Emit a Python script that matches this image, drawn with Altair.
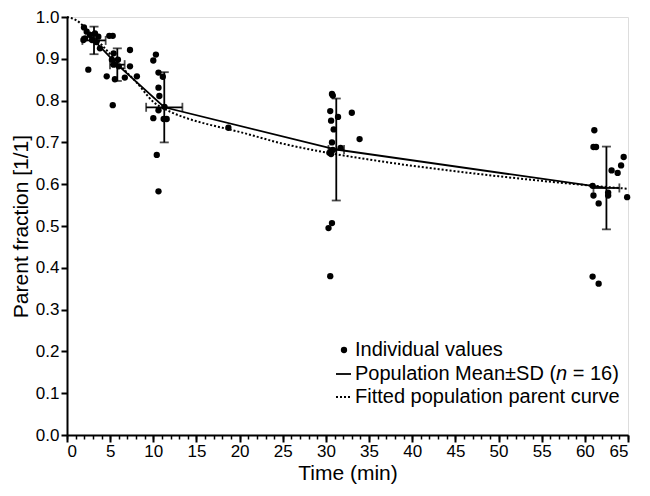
import altair as alt
import pandas as pd

# ---- data ----
pt_time = [1.97, 2.28, 2.67, 2.09, 3.24, 3.63, 2.47, 1.9, 3.82, 2.9, 3.4,
           4.9, 5.3, 7.3, 5.4, 5.2, 5.9, 4.6, 5.55, 6.7, 7.3, 8.1, 5.3, 5.4, 6.0,
           10.3, 10.0, 10.6, 11.1, 10.6, 10.7, 10.0, 11.2, 11.55, 10.6, 10.4, 10.6, 18.7, 11.3,
           30.7, 30.8, 30.5, 33.0, 30.6, 31.4, 30.9, 33.9, 30.7, 31.7, 30.8, 30.4, 30.6, 30.7, 30.3, 30.5,
           61.1, 61.0, 61.3, 64.5, 64.2, 63.1, 63.8, 61.0, 62.7, 62.7, 61.6, 64.9, 60.9, 60.9, 61.6]
pt_value = [0.975, 0.965, 0.957, 0.949, 0.961, 0.953, 0.874, 0.945, 0.925, 0.945, 0.940,
            0.955, 0.955, 0.921, 0.913, 0.898, 0.898, 0.858, 0.851, 0.855, 0.882, 0.858, 0.789, 0.886, 0.882,
            0.910, 0.896, 0.867, 0.857, 0.831, 0.811, 0.758, 0.756, 0.756, 0.777, 0.670, 0.583, 0.735, 0.785,
            0.816, 0.812, 0.775, 0.771, 0.752, 0.761, 0.731, 0.708, 0.700, 0.687, 0.682, 0.675, 0.672, 0.507, 0.495, 0.380,
            0.729, 0.689, 0.689, 0.665, 0.645, 0.633, 0.627, 0.573, 0.580, 0.573, 0.554, 0.569, 0.596, 0.379, 0.362]

mean_time = [3.13, 5.83, 11.27, 31.2, 62.5]
mean_value = [0.944, 0.886, 0.784, 0.683, 0.591]
sd_time = [1.35, 0.85, 2.1, 0.9, 1.5]
sd_value = [0.033, 0.039, 0.084, 0.122, 0.099]

fit_time = [0, 1, 2, 3, 4, 5, 6, 7, 8, 10, 12, 14, 16, 18, 20, 25, 30, 35, 40, 45, 50, 55, 60, 65]
fit_value = [1.0, 0.993, 0.977, 0.956, 0.934, 0.911, 0.888, 0.866, 0.845, 0.797, 0.773, 0.757,
             0.745, 0.735, 0.725, 0.697, 0.676, 0.659, 0.644, 0.631, 0.619, 0.608, 0.598, 0.589]

x_major = list(range(0, 70, 5))
x_minor = list(range(0, 66))
y_ticks = [round(i * 0.1, 1) for i in range(11)]

legend_labels = ["Individual values", "Population Mean\u00b1SD (", "n", "= 16)",
                 "Fitted population parent curve"]

# ---- tables ----
pts = pd.DataFrame({"t": pt_time, "v": pt_value})
means = pd.DataFrame({"t": mean_time, "v": mean_value, "st": sd_time, "sv": sd_value})
means["v_lo"] = means["v"] - means["sv"]
means["v_hi"] = means["v"] + means["sv"]
means["t_lo"] = means["t"] - means["st"]
means["t_hi"] = means["t"] + means["st"]
fit = pd.DataFrame({"t": fit_time, "v": fit_value})

FONT = "Liberation Sans"
xs = alt.Scale(domain=[0, 65], nice=False, zero=False)
ys = alt.Scale(domain=[0, 1], nice=False)

main_x_axis = alt.Axis(values=x_major, title="Time (min)", orient="bottom", tickSize=7,
                       tickWidth=2, domainWidth=2, domainColor="black", tickColor="black",
                       labelFontSize=17, titleFontSize=21, titleFontWeight="normal",
                       labelColor="black", titleColor="black", grid=False, titlePadding=3,
                       labelPadding=1)
minor_x_axis = alt.Axis(values=x_minor, title=None, orient="bottom", tickSize=4, tickWidth=1.5,
                        labels=False, domain=False, tickColor="black", grid=False)
y_axis = alt.Axis(values=y_ticks, format=".1f", title="Parent fraction [1/1]", orient="left",
                  tickSize=6, tickWidth=2, domainWidth=2, domainColor="black", tickColor="black",
                  labelFontSize=17, titleFontSize=21, titleFontWeight="normal",
                  labelColor="black", titleColor="black", grid=False, titlePadding=4,
                  labelPadding=2)

points = alt.Chart(pts).mark_circle(size=40, color="black", opacity=1).encode(
    x=alt.X("t:Q", scale=xs, axis=main_x_axis),
    y=alt.Y("v:Q", scale=ys, axis=y_axis),
)

fit_line = alt.Chart(fit).mark_line(color="black", strokeWidth=2, strokeDash=[2, 2],
                                    interpolate="monotone").encode(
    x=alt.X("t:Q", scale=xs, axis=minor_x_axis),
    y=alt.Y("v:Q", scale=ys, axis=None),
)

mean_line = alt.Chart(means).mark_line(color="black", strokeWidth=1.8).encode(
    x=alt.X("t:Q", scale=xs, axis=None),
    y=alt.Y("v:Q", scale=ys, axis=None),
)

vbar = alt.Chart(means).mark_rule(color="black", strokeWidth=1.8).encode(
    x=alt.X("t:Q", scale=xs, axis=None),
    y=alt.Y("v_lo:Q", scale=ys, axis=None),
    y2="v_hi:Q",
)
hbar = alt.Chart(means).mark_rule(color="black", strokeWidth=1.8).encode(
    x=alt.X("t_lo:Q", scale=xs, axis=None),
    x2="t_hi:Q",
    y=alt.Y("v:Q", scale=ys, axis=None),
)
cap_top = alt.Chart(means).mark_tick(color="black", thickness=1.8, size=9, orient="horizontal").encode(
    x=alt.X("t:Q", scale=xs, axis=None), y=alt.Y("v_hi:Q", scale=ys, axis=None))
cap_bot = alt.Chart(means).mark_tick(color="black", thickness=1.8, size=9, orient="horizontal").encode(
    x=alt.X("t:Q", scale=xs, axis=None), y=alt.Y("v_lo:Q", scale=ys, axis=None))
cap_left = alt.Chart(means).mark_tick(color="black", thickness=1.8, size=9, orient="vertical").encode(
    x=alt.X("t_lo:Q", scale=xs, axis=None), y=alt.Y("v:Q", scale=ys, axis=None))
cap_right = alt.Chart(means).mark_tick(color="black", thickness=1.8, size=9, orient="vertical").encode(
    x=alt.X("t_hi:Q", scale=xs, axis=None), y=alt.Y("v:Q", scale=ys, axis=None))

# ---- hand-drawn legend ----
LF = 20
def ltext(label, px, py, style="normal"):
    return alt.Chart(pd.DataFrame({"lab": [label]})).mark_text(
        align="left", baseline="middle", font=FONT, fontSize=LF, fontStyle=style, color="black"
    ).encode(x=alt.value(px), y=alt.value(py), text="lab:N")

lx = 288
w1 = 10.053 * LF
wn = 0.556 * LF
wsp = 0.278 * LF
r1, r2, r3 = 333, 357, 380
leg = [
    alt.Chart(pd.DataFrame({"lab": [legend_labels[0]]})).mark_circle(size=40, color="black", opacity=1)
       .encode(x=alt.value(277), y=alt.value(r1)),
    ltext(legend_labels[0], lx, r1),
    alt.Chart(pd.DataFrame({"lab": [legend_labels[1]]})).mark_rule(color="black", strokeWidth=1.8)
       .encode(x=alt.value(269), x2=alt.value(284), y=alt.value(r2)),
    ltext(legend_labels[1], lx, r2),
    ltext(legend_labels[2], lx + w1, r2, "italic"),
    ltext(legend_labels[3], lx + w1 + wn + wsp, r2),
    alt.Chart(pd.DataFrame({"lab": [legend_labels[4]]})).mark_rule(color="black", strokeWidth=2, strokeDash=[2, 2])
       .encode(x=alt.value(269), x2=alt.value(284), y=alt.value(r3)),
    ltext(legend_labels[4], lx, r3),
]

chart = alt.layer(points, fit_line, mean_line, vbar, hbar, cap_top, cap_bot, cap_left, cap_right, *leg).resolve_axis(
    x="independent", y="independent"
).properties(
    width=561, height=418, autosize=alt.AutoSizeParams(type="none"),
    padding={"left": 59, "top": 9, "right": 14, "bottom": 53},
).configure_view(stroke=None).configure_axis(labelFont=FONT, titleFont=FONT).configure(background="white")

chart.save("out.html", embed_options={"renderer": "svg", "actions": False})
